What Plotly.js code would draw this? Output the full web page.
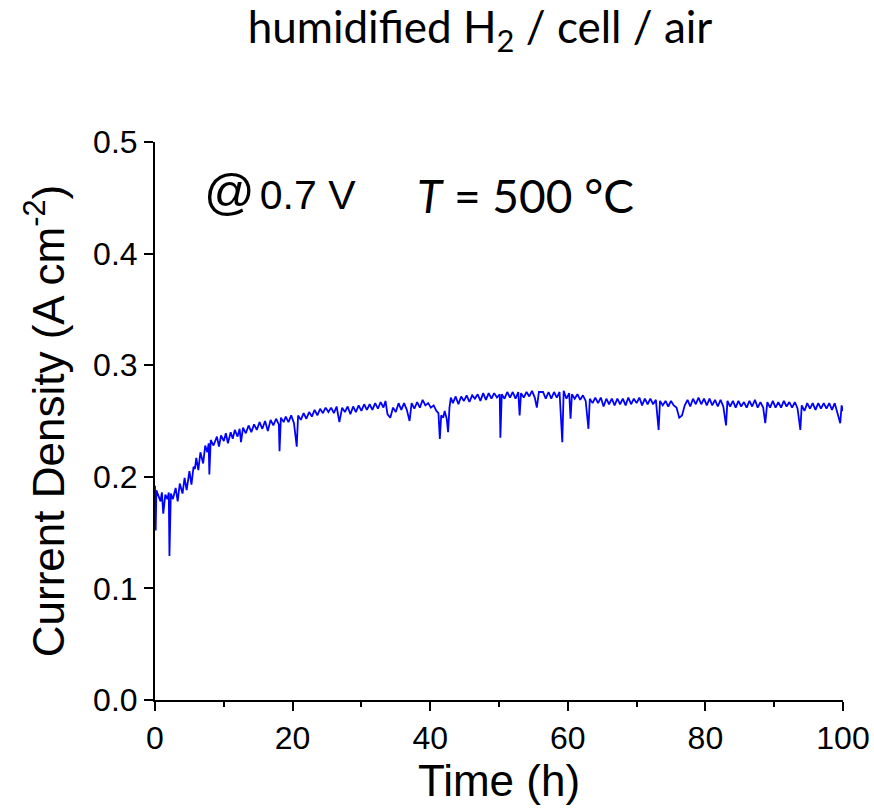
<!DOCTYPE html>
<html>
<head>
<meta charset="utf-8">
<script src="https://cdn.plot.ly/plotly-3.0.1.min.js"></script>
<style>html,body{margin:0;padding:0;background:#fff;}#chart{width:874px;height:809px;}</style>
</head>
<body>
<div id="chart"></div>
<script>
const timeH = [0,0.1,0.2,0.5,0.8,1.0,1.2,1.5,1.8,2.0,2.1,2.3,2.6,3.0,3.3,3.6,4.0,4.3,4.6,5.0,5.3,5.6,5.8,6.0,6.3,6.6,7.0,7.3,7.6,7.8,7.9,8.1,8.5,9.0,9.3,9.6,10.0,10.3,10.6,11.0,11.3,11.6,12.0,12.3,12.5,12.8,13.2,13.6,14.0,14.4,14.8,15.2,15.6,16.0,16.4,16.8,17.2,17.6,18.0,18.1,18.3,18.7,19.0,19.4,19.8,20.2,20.6,20.8,21.2,21.6,22.0,22.4,22.8,23.2,23.6,24.0,24.4,24.8,25.2,25.6,26.0,26.4,26.8,27.2,27.6,28.0,28.4,28.8,29.2,29.6,30.0,30.4,30.8,31.2,31.6,32.0,32.4,32.8,33.2,33.5,33.8,34.2,34.6,35.0,35.4,35.8,36.2,36.6,37.0,37.3,37.7,38.1,38.5,38.9,39.3,39.7,40.1,40.5,40.9,41.2,41.4,41.6,41.9,42.1,42.4,42.6,42.8,43.0,43.3,43.7,44.1,44.5,44.9,45.3,45.7,46.1,46.5,46.9,47.3,47.7,48.1,48.5,48.9,49.3,49.7,50.1,50.2,50.4,50.8,51.2,51.6,52.0,52.4,52.8,53.0,53.2,53.6,54.0,54.4,54.8,55.2,55.5,55.8,56.4,56.8,57.2,57.6,58.0,58.4,58.8,59.2,59.4,59.8,60.2,60.4,60.6,61.0,61.4,61.8,62.2,62.6,63.0,63.2,63.6,64.0,64.4,64.8,65.2,65.6,66.0,66.4,66.8,67.2,67.6,68.0,68.4,68.8,69.2,69.6,70.0,70.4,70.8,71.2,71.6,72.0,72.4,72.8,73.2,73.4,73.8,74.2,74.6,75.0,75.4,75.8,76.2,76.6,77.0,77.4,77.8,78.2,78.6,79.0,79.4,79.8,80.2,80.6,81.0,81.4,81.8,82.2,82.6,83.0,83.2,83.6,84.0,84.4,84.8,85.2,85.6,86.0,86.4,86.8,87.2,87.6,88.0,88.4,88.7,89.0,89.4,89.8,90.2,90.6,91.0,91.4,91.8,92.2,92.6,93.0,93.4,93.8,94.0,94.4,94.8,95.2,95.6,96.0,96.4,96.8,97.2,97.6,98.0,98.4,98.8,99.2,99.6,99.8,100.0];
const currentDensity = [0.192,0.152,0.188,0.183,0.178,0.186,0.167,0.184,0.180,0.186,0.129,0.185,0.180,0.190,0.178,0.194,0.185,0.199,0.188,0.205,0.193,0.209,0.207,0.217,0.206,0.222,0.212,0.228,0.222,0.230,0.202,0.233,0.228,0.236,0.227,0.237,0.232,0.239,0.230,0.240,0.234,0.242,0.236,0.243,0.231,0.244,0.239,0.246,0.240,0.247,0.242,0.249,0.243,0.250,0.241,0.251,0.246,0.252,0.247,0.223,0.253,0.249,0.254,0.249,0.255,0.248,0.227,0.255,0.251,0.257,0.252,0.258,0.254,0.260,0.255,0.261,0.257,0.262,0.258,0.262,0.257,0.263,0.249,0.262,0.258,0.263,0.256,0.263,0.258,0.264,0.259,0.265,0.260,0.265,0.260,0.266,0.261,0.267,0.262,0.268,0.256,0.253,0.262,0.258,0.266,0.260,0.266,0.260,0.250,0.266,0.261,0.267,0.262,0.269,0.264,0.266,0.262,0.264,0.259,0.257,0.234,0.255,0.253,0.259,0.252,0.240,0.262,0.271,0.266,0.272,0.265,0.272,0.268,0.273,0.267,0.273,0.270,0.274,0.268,0.275,0.269,0.275,0.270,0.275,0.271,0.274,0.235,0.274,0.270,0.276,0.271,0.276,0.270,0.276,0.255,0.275,0.271,0.276,0.272,0.277,0.271,0.262,0.276,0.276,0.270,0.276,0.270,0.276,0.271,0.276,0.231,0.277,0.270,0.275,0.252,0.274,0.270,0.274,0.269,0.273,0.268,0.243,0.270,0.266,0.271,0.266,0.271,0.263,0.270,0.265,0.270,0.264,0.270,0.265,0.270,0.264,0.271,0.265,0.270,0.266,0.271,0.264,0.270,0.265,0.270,0.265,0.269,0.242,0.268,0.264,0.268,0.263,0.268,0.264,0.262,0.253,0.255,0.264,0.269,0.263,0.270,0.265,0.271,0.265,0.270,0.264,0.270,0.264,0.269,0.263,0.269,0.263,0.246,0.268,0.263,0.268,0.262,0.268,0.263,0.267,0.262,0.268,0.263,0.269,0.262,0.267,0.262,0.248,0.267,0.262,0.268,0.262,0.267,0.262,0.268,0.263,0.267,0.262,0.267,0.261,0.242,0.264,0.259,0.266,0.261,0.266,0.260,0.266,0.261,0.266,0.261,0.266,0.260,0.266,0.258,0.248,0.264,0.259];

const xTickVals = [0,20,40,60,80,100];
const yTickVals = [0.0,0.1,0.2,0.3,0.4,0.5];
const yTickText = ['0.0','0.1','0.2','0.3','0.4','0.5'];

const arial = 'Liberation Sans, Arial, sans-serif';
const calibri = 'Lato, Open Sans, sans-serif';

const trace = {
  x: timeH, y: currentDensity, type: 'scatter', mode: 'lines',
  line: {color: '#0000FF', width: 1.8}, hoverinfo: 'x+y'
};

const layout = {
  width: 874, height: 809,
  margin: {l: 155, r: 31, t: 142, b: 109},
  paper_bgcolor: '#fff', plot_bgcolor: '#fff',
  showlegend: false,
  title: {
    text: 'humidified H<sub>2</sub> / cell / air',
    font: {family: calibri, size: 44, color: '#000'},
    x: 0.4724, xanchor: 'center', xref: 'paper',
    y: 0.966, yanchor: 'middle', yref: 'container'
  },
  xaxis: {
    range: [0, 100], tickvals: xTickVals, ticktext: xTickVals.map(String),
    showline: true, linecolor: '#000', linewidth: 2,
    ticks: 'outside', ticklen: 9, tickwidth: 2, tickcolor: '#000',
    minor: {ticks: 'outside', ticklen: 5, tickwidth: 2, tickcolor: '#000', dtick: 10, tick0: 0},
    showgrid: false, zeroline: false, mirror: false,
    tickfont: {family: arial, size: 32, color: '#000'},
    title: {text: 'Time (h)', font: {family: arial, size: 44, color: '#000'}, standoff: 1}
  },
  yaxis: {
    range: [0, 0.5], tickvals: yTickVals, ticktext: yTickText,
    showline: true, linecolor: '#000', linewidth: 2,
    ticks: 'outside', ticklen: 9, tickwidth: 2, tickcolor: '#000',
    showgrid: false, zeroline: false, mirror: false,
    tickfont: {family: arial, size: 32, color: '#000'},
    title: {text: 'Current Density (A cm<sup>-2</sup>)', font: {family: arial, size: 44, color: '#000'}, standoff: 15}
  },
  annotations: [
    {xref: 'x', yref: 'y', x: 6.9, y: 0.455, xanchor: 'left', yanchor: 'middle', showarrow: false,
     text: '<span style="font-size:50px">@</span><span style="font-size:18px"> </span>0.7 V', font: {family: arial, size: 41, color: '#000'}},
    {xref: 'x', yref: 'y', x: 37.8, y: 0.452, xanchor: 'left', yanchor: 'middle', showarrow: false,
     text: '<i>T</i> = 500 °C', font: {family: calibri, size: 46, color: '#000'}}
  ]
};

Plotly.newPlot('chart', [trace], layout, {displayModeBar: false, staticPlot: true});
</script>
</body>
</html>
